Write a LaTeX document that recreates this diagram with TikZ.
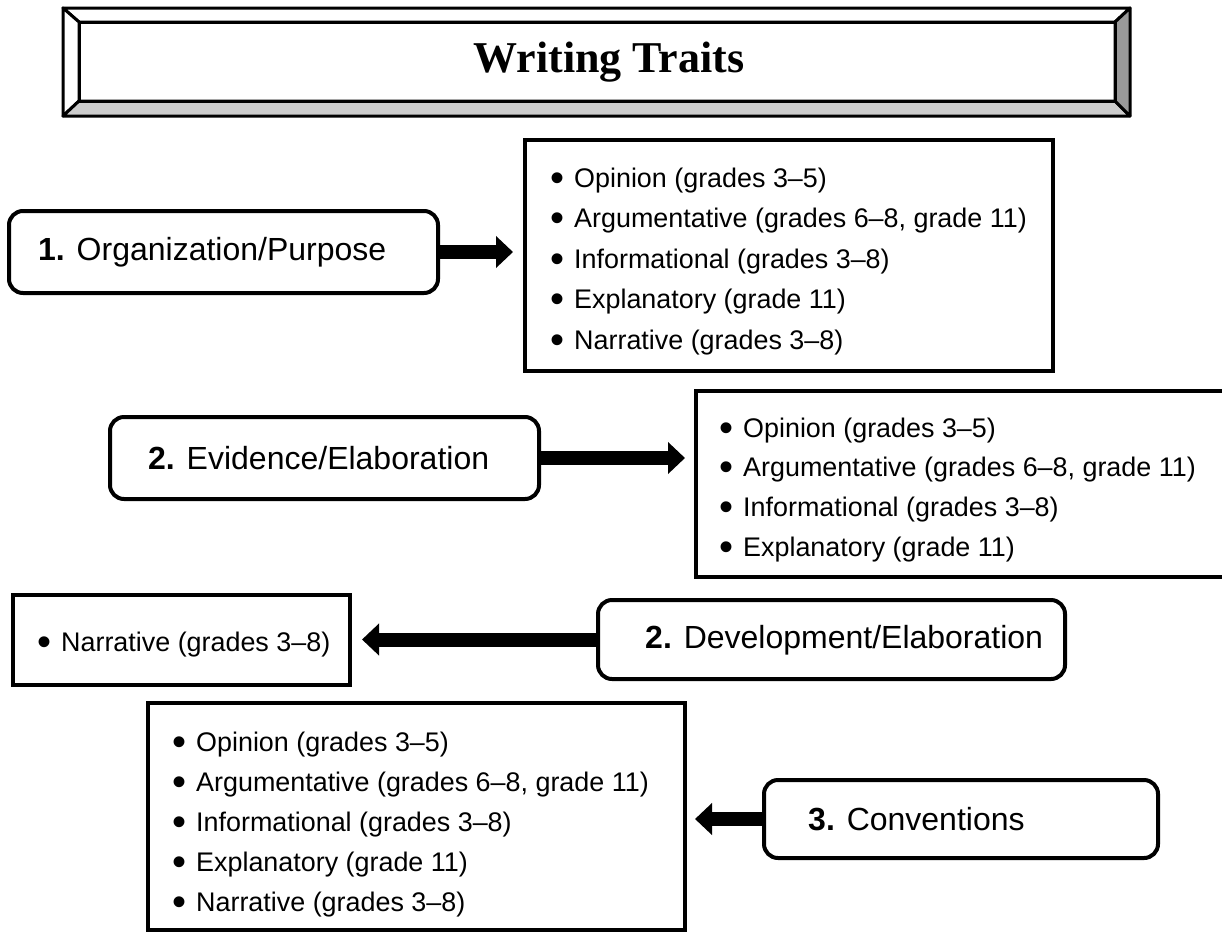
\documentclass[tikz,border=0pt]{standalone}
\usepackage{fontspec}
\setmainfont{Liberation Sans}
\newfontfamily\titlefont{Liberation Serif}
\usetikzlibrary{arrows.meta}
\definecolor{bevlight}{HTML}{CCCCCC}
\definecolor{bevdark}{HTML}{999999}
\tikzset{
  rbox/.style={draw, line width=4pt, rounded corners=14pt, fill=white, inner sep=0pt},
  lbox/.style={draw, line width=4pt, fill=white, inner sep=0pt},
  lbl/.style={anchor=west, inner sep=0pt, font=\fontsize{32}{38}\selectfont},
  item/.style={anchor=base west, inner sep=0pt, font=\fontsize{26.9}{32}\selectfont},
  bigarrow/.style={line width=14pt, -{Triangle[length=17pt,width=31pt]}},
  bevel/.style={draw, line width=3pt, line join=round}
}
\newcommand{\bul}{\makebox[0pt][c]{\raisebox{-4.2pt}{\fontsize{40}{40}\selectfont •}}\hspace{17pt}}
\begin{document}
\begin{tikzpicture}[x=1pt,y=-1pt]
\useasboundingbox (0,0) rectangle (1222,932);
\clip (0,0) rectangle (1222,932);
% title bevel box
\fill[white] (63,8) rectangle (1130,116);
\path[bevel, fill=white] (63,8) -- (1130,8) -- (1115,22) -- (79,22) -- cycle;
\path[bevel, fill=white] (63,8) -- (79,22) -- (79,101) -- (63,116) -- cycle;
\path[bevel, fill=bevlight] (63,116) -- (79,101) -- (1115,101) -- (1130,116) -- cycle;
\path[bevel, fill=bevdark] (1130,8) -- (1130,116) -- (1115,101) -- (1115,22) -- cycle;
\draw[line width=3pt] (79,22) rectangle (1115,101);
\node[inner sep=0pt, font=\titlefont\bfseries\fontsize{44}{48}\selectfont] (title) at (609,62) {Writing Traits};

% trait boxes
\node[rbox, minimum width=429pt, minimum height=82pt] (b1) at (223.5,252) {};
\node[lbl] (t1) at (38,252) {{\bfseries 1.} Organization/Purpose};
\node[rbox, minimum width=429pt, minimum height=82pt] (b2) at (324.5,458) {};
\node[lbl] (t2) at (148,458) {{\bfseries 2.} Evidence/Elaboration};
\node[rbox, minimum width=467pt, minimum height=79pt] (b3) at (831.5,639.5) {};
\node[lbl] (t3) at (645,640) {{\bfseries 2.} Development/Elaboration};
\node[rbox, minimum width=394pt, minimum height=78pt] (b4) at (961,819) {};
\node[lbl] (t4) at (808,819) {{\bfseries 3.} Conventions};

% list boxes
\node[lbox, minimum width=528pt, minimum height=231pt] (l1) at (789,255.5) {};
\node[lbox, minimum width=536pt, minimum height=186pt] (l2) at (964,484) {};
\node[lbox, minimum width=337pt, minimum height=90pt] (l3) at (181.5,640) {};
\node[lbox, minimum width=537pt, minimum height=227pt] (l4) at (416.5,816.5) {};

\foreach \t [count=\i from 0] in {{Opinion (grades 3–5)},{Argumentative (grades 6–8, grade 11)},{Informational (grades 3–8)},{Explanatory (grade 11)},{Narrative (grades 3–8)}}
  \node[item] (a\i) at (557,187+40.5*\i) {\bul\t};
\foreach \t [count=\i from 0] in {{Opinion (grades 3–5)},{Argumentative (grades 6–8, grade 11)},{Informational (grades 3–8)},{Explanatory (grade 11)}}
  \node[item] (c\i) at (726,437+39.7*\i) {\bul\t};
\node[item] (n0) at (44,651) {\bul Narrative (grades 3–8)};
\foreach \t [count=\i from 0] in {{Opinion (grades 3–5)},{Argumentative (grades 6–8, grade 11)},{Informational (grades 3–8)},{Explanatory (grade 11)},{Narrative (grades 3–8)}}
  \node[item] (d\i) at (179,751+40*\i) {\bul\t};

% arrows
\draw[bigarrow, shorten >=10pt] (b1.east) -- (b1.east -| l1.west);
\draw[bigarrow, shorten >=9pt] (b2.east) -- (b2.east -| l2.west);
\draw[bigarrow, shorten >=10pt] (b3.west) -- (b3.west -| l3.east);
\draw[bigarrow, shorten >=8pt] (b4.west) -- (b4.west -| l4.east);
\end{tikzpicture}
\end{document}
